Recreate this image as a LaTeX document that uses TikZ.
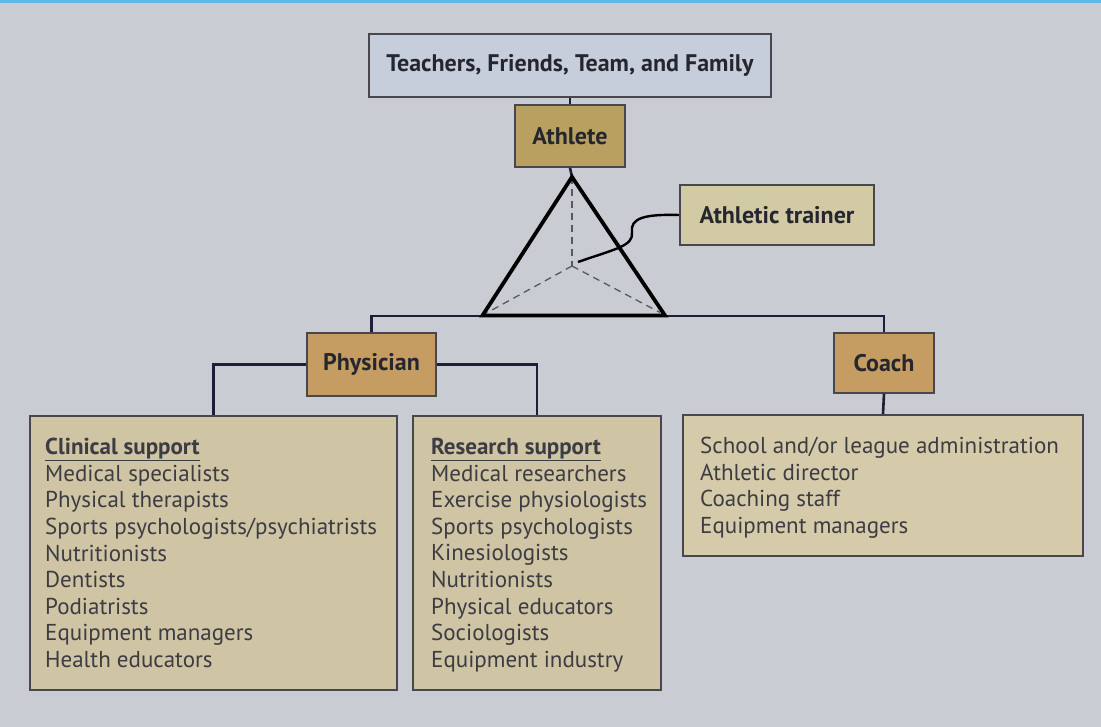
\documentclass[tikz,border=0pt]{standalone}
\usepackage{fontspec}
\setmainfont{PT Sans}
\usetikzlibrary{calc}
\definecolor{pagebg}{HTML}{CACCD3}
\definecolor{topfill}{HTML}{C6CEDB}
\definecolor{athfill}{HTML}{B8A060}
\definecolor{trainfill}{HTML}{D2CAA4}
\definecolor{rolefill}{HTML}{C59C62}
\definecolor{listfill}{HTML}{CFC4A4}
\definecolor{coachlistfill}{HTML}{D5CBAA}
\definecolor{inkc}{HTML}{26262E}
\definecolor{linec}{HTML}{1E1E38}
\definecolor{barblue}{HTML}{5DB8EA}
\tikzset{
  boxbase/.style={draw=inkc!85, line width=1.6pt, rectangle, inner sep=0pt, text=inkc, font=\fontsize{24}{27}\selectfont\bfseries},
  topbox/.style={boxbase, fill=topfill},
  athbox/.style={boxbase, fill=athfill},
  trainbox/.style={boxbase, fill=trainfill},
  rolebox/.style={boxbase, fill=rolefill},
  listbox/.style={boxbase, fill=listfill},
  listtext/.style={anchor=north west, align=left, inner sep=0pt, text=inkc!90, font=\fontsize{23}{26.6}\selectfont},
  conn/.style={draw=linec, line width=2.6pt},
  tri/.style={draw=black, line width=3.8pt, line join=miter},
  hidden/.style={draw=black!65, line width=1.3pt, dash pattern=on 7pt off 5pt}
}
\begin{document}
\begin{tikzpicture}[x=1pt,y=-1pt]
\fill[pagebg] (0,0) rectangle (1101,727);
\fill[barblue] (0,0) rectangle (1101,3);
\useasboundingbox (0,0) rectangle (1101,727);

\node[topbox, minimum width=402pt, minimum height=63pt] (top) at (570,65.5) {Teachers, Friends, Team, and Family};
\node[athbox, minimum width=110pt, minimum height=62pt] (ath) at (570,136) {Athlete};
\node[trainbox, minimum width=194pt, minimum height=60pt] (train) at (777,215) {Athletic trainer};
\node[rolebox, minimum width=129pt, minimum height=63pt] (phys) at (371.5,364.5) {Physician};
\node[rolebox, minimum width=100pt, minimum height=60pt] (coach) at (884,363) {Coach};

\node[listbox, minimum width=367pt, minimum height=274pt] (clin) at (213.5,553) {};
\node[listbox, minimum width=248pt, minimum height=274pt] (res) at (537,553) {};
\node[listbox, fill=coachlistfill, minimum width=400pt, minimum height=141pt] (clist) at (883,485.5) {};

\node[listtext] (clintext) at (45,438) {\textbf{\underline{Clinical support}}\\Medical specialists\\Physical therapists\\Sports psychologists/psychiatrists\\Nutritionists\\Dentists\\Podiatrists\\Equipment managers\\Health educators};
\node[listtext] (restext) at (431,438) {\textbf{\underline{Research support}}\\Medical researchers\\Exercise physiologists\\Sports psychologists\\Kinesiologists\\Nutritionists\\Physical educators\\Sociologists\\Equipment industry};
\node[listtext] (clisttext) at (700,437) {School and/or league administration\\Athletic director\\Coaching staff\\Equipment managers};

% coordinates of the triangle
\coordinate (apex) at (572,177);
\coordinate (bl) at (482.5,315.5);
\coordinate (br) at (665,315.5);
\coordinate (mid) at (572,266);
\coordinate (bar) at (600,316);
\coordinate (tend) at (578,262);

\draw[conn] (top.south) -- (ath.north);
\draw[conn] (ath.south) -- (apex);
\draw[conn] (phys.north) |- (bar) -| (coach.north);
\draw[conn] (phys.west) -| (clin.north);
\draw[conn] (phys.east) -| (res.north);
\draw[conn] (coach.south) -- (clist.north);

\draw[hidden] (apex) -- (mid);
\draw[hidden] (mid) -- ($(bl)+(5,-3)$);
\draw[hidden] (mid) -- ($(br)+(-5,-3)$);
\draw[tri] (apex) -- (bl) -- (br) -- cycle;

\draw[draw=black, line width=2.4pt] (train.west) .. controls (645,214) and (630,218) .. (632,232) .. controls (634,246) and (615,249) .. (tend);
\end{tikzpicture}
\end{document}
